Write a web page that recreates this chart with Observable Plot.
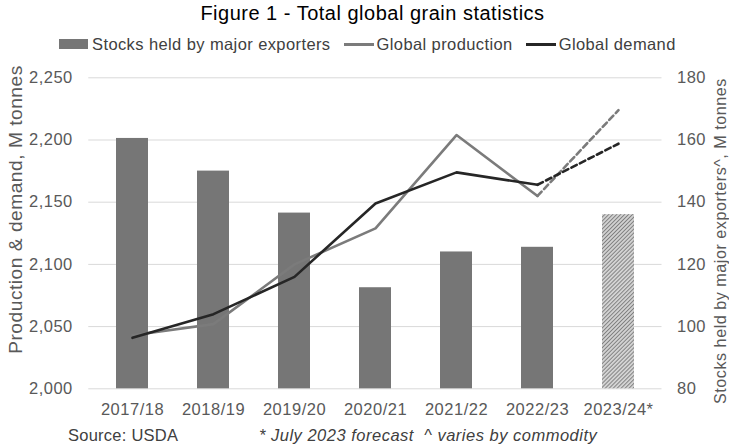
<!DOCTYPE html>
<html>
<head>
<meta charset="utf-8">
<script src="https://cdn.jsdelivr.net/npm/d3@7"></script>
<script src="https://cdn.jsdelivr.net/npm/@observablehq/plot@0.6"></script>
<style>
  html, body { margin: 0; padding: 0; background: #fff; }
  body { width: 729px; height: 445px; overflow: hidden; font-family: "Liberation Sans", Arial, sans-serif; }
  #title { height: 26px; line-height: 26px; font-size: 20px; letter-spacing: 0.5px; text-align: center;
           padding-left: 16px; box-sizing: border-box; color: #000; }
  #legend { height: 31px; box-sizing: border-box; padding: 5px 0 0 59px; display: flex; align-items: center;
            font-size: 16.5px; letter-spacing: 0.4px; color: #404040; }
  #legend .item { display: flex; align-items: center; height: 26px; line-height: 26px; margin-right: 13px; }
  #legend .sw { display: inline-block; margin-right: 4px; }
  #legend .sw.bar { width: 29px; height: 10px; background: #767676; }
  #legend .sw.line { width: 30px; height: 3px; margin-right: 3px; }
  #chart svg { display: block; }
  #footer { position: relative; height: 25px; font-size: 16.5px; color: #404040; }
  #footer span { position: absolute; top: 5px; line-height: 21px; white-space: nowrap; }
  #footer .source { left: 68px; letter-spacing: 0.25px; }
  #footer .notes { left: 259px; font-style: italic; letter-spacing: 0.5px; }
</style>
</head>
<body>
<div id="title">Figure 1 - Total global grain statistics</div>
<div id="legend"></div>
<div id="chart"></div>
<div id="footer"><span class="source">Source: USDA</span><span class="notes">* July 2023 forecast&nbsp;&nbsp;^ varies by commodity</span></div>
<script>
// Marketing years and values (M tonnes)
const seasons = ["2017/18", "2018/19", "2019/20", "2020/21", "2021/22", "2022/23", "2023/24*"];
const stocks = [160.5, 150, 136.5, 112.5, 124, 125.5, 136];          // stocks held by major exporters
const production = [2043, 2052, 2100, 2129, 2204, 2155, 2224];       // global production
const demand = [2041, 2060, 2090, 2149, 2174, 2164, 2197];           // global demand
const forecastSeason = "2023/24*";

const leftTicks = [2000, 2050, 2100, 2150, 2200, 2250];
const rightTicks = [80, 100, 120, 140, 160, 180];
const leftTitle = "Production & demand, M tonnes";
const rightTitle = "Stocks held by major exporters^, M tonnes";

const seriesNames = ["Stocks held by major exporters", "Global production", "Global demand"];
const seriesColors = ["#767676", "#7b7b7b", "#262626"];

// The stocks axis (80–180) shares the frame with the production axis (2,000–2,250)
const toLeft = s => 2000 + (s - rightTicks[0]) * 2.5;
const toRight = v => rightTicks[0] + (v - 2000) / 2.5;

const rows = seasons.map((season, i) => ({
  season, stocks: stocks[i], production: production[i], demand: demand[i],
  forecast: season === forecastSeason
}));
const actual = rows.filter(d => !d.forecast);
const outlook = [actual[actual.length - 1], ...rows.filter(d => d.forecast)];

// Legend
const legend = d3.select("#legend");
seriesNames.forEach((name, i) => {
  const item = legend.append("div").attr("class", "item");
  item.append("span").attr("class", i === 0 ? "sw bar" : "sw line").style("background", seriesColors[i]);
  item.append("span").text(name);
});

// Fine diagonal hatch for the forecast bar
const hatchDefs = () => {
  const defs = d3.create("svg:defs");
  const p = defs.append("pattern")
    .attr("id", "hatch-forecast")
    .attr("patternUnits", "userSpaceOnUse")
    .attr("width", 2.8).attr("height", 2.8)
    .attr("patternTransform", "rotate(45)");
  p.append("rect").attr("width", 2.8).attr("height", 2.8).attr("fill", "#e6e6e6");
  p.append("line").attr("x1", 1.4).attr("y1", 0).attr("x2", 1.4).attr("y2", 2.8)
    .attr("stroke", "#808080").attr("stroke-width", 1.3);
  return defs.node();
};

const chart = Plot.plot({
  width: 729,
  height: 363,
  marginLeft: 88.25,
  marginRight: 67.5,
  marginTop: 20.3,
  marginBottom: 31.7,
  style: { fontFamily: "Liberation Sans, Arial, sans-serif", fontSize: "16.5px", letterSpacing: "0.5px", color: "#595959", background: "#fff" },
  x: { domain: seasons, paddingInner: 0.6, paddingOuter: 0.3, label: null },
  y: { domain: [2000, 2250], label: null },
  marks: [
    hatchDefs,
    Plot.gridY(leftTicks, { stroke: "#d9d9d9", strokeOpacity: 1, strokeWidth: 1 }),
    Plot.barY(actual, { x: "season", y1: () => toLeft(rightTicks[0]), y2: d => toLeft(d.stocks), fill: seriesColors[0] }),
    Plot.barY(rows.filter(d => d.forecast), { x: "season", y1: () => toLeft(rightTicks[0]), y2: d => toLeft(d.stocks), fill: "url(#hatch-forecast)" }),
    Plot.line(actual, { x: "season", y: "production", stroke: seriesColors[1], strokeWidth: 2.6 }),
    Plot.line(outlook, { x: "season", y: "production", stroke: seriesColors[1], strokeWidth: 2.6, strokeDasharray: "6,3.5" }),
    Plot.line(actual, { x: "season", y: "demand", stroke: seriesColors[2], strokeWidth: 2.6 }),
    Plot.line(outlook, { x: "season", y: "demand", stroke: seriesColors[2], strokeWidth: 2.6, strokeDasharray: "6,3.5" }),
    Plot.axisY({ anchor: "left", ticks: leftTicks, tickFormat: d3.format(","), tickSize: 0, tickPadding: 16, label: null }),
    Plot.axisY(rightTicks.map(toLeft), { anchor: "right", tickFormat: v => String(Math.round(toRight(v))), tickSize: 0, tickPadding: 15, label: null }),
    Plot.axisX({ tickSize: 0, tickPadding: 14, label: null }),
    Plot.text([leftTitle], { text: d => d, frameAnchor: "left", dx: -73.25, dy: -23.8, rotate: -90, textAnchor: "middle", lineAnchor: "middle", fontSize: 19.2, fill: "#595959" }),
    Plot.text([rightTitle], { text: d => d, frameAnchor: "right", dx: 58.5, dy: 7.7, rotate: -90, textAnchor: "middle", lineAnchor: "middle", fontSize: 16.2, fill: "#595959" })
  ]
});
document.getElementById("chart").append(chart);
</script>
</body>
</html>
